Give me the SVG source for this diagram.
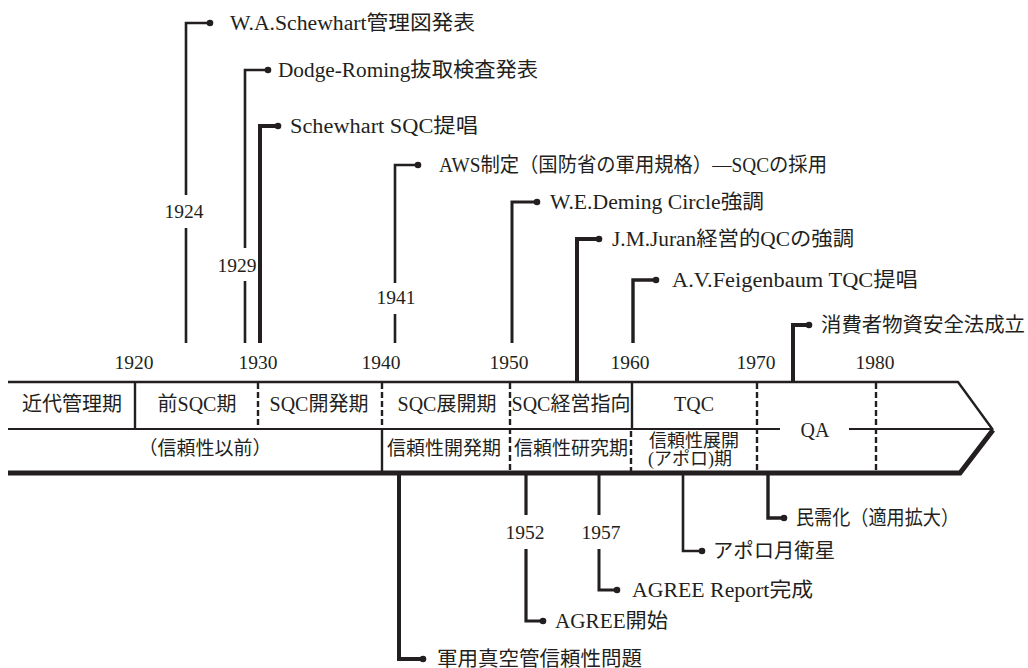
<svg xmlns="http://www.w3.org/2000/svg" width="1028" height="668" viewBox="0 0 1028 668">
<style>
text{font-family:"Liberation Serif","Noto Sans CJK JP",serif;fill:#231f20}
.lbl{font-size:20px}
.yr{font-size:19.5px;text-anchor:middle}
.band{font-size:20px;text-anchor:middle}
.band2{font-size:19px;text-anchor:middle}
.ln{fill:none;stroke:#231f20;stroke-width:2.6;stroke-linejoin:miter;stroke-linecap:butt}
.thk{stroke-width:4}
.dash{fill:none;stroke:#231f20;stroke-width:2.4;stroke-dasharray:6 3}
.dot{fill:#231f20}
</style>
<rect width="1028" height="668" fill="#fff"/>

<g id="timeline-band">
  <path d="M8,382 H958 L993,430" fill="none" stroke="#231f20" stroke-width="2.4"/>
  <path d="M8,473 H960 L993,430" fill="none" stroke="#231f20" stroke-width="5"/>
  <path d="M8,429 H780 M849,429 H993" fill="none" stroke="#231f20" stroke-width="2.2"/>
  <path d="M135,382 V429 M632,382 V429 M382,429 V473" fill="none" stroke="#231f20" stroke-width="2.4"/>
  <path class="dash" d="M258,383 V429 M382,383 V429 M510,383 V472 M631,431 V472 M757,383 V472 M876,383 V472"/>
  <text class="band" x="72" y="411">近代管理期</text>
  <text class="band" x="197" y="411">前SQC期</text>
  <text class="band" x="319" y="411">SQC開発期</text>
  <text class="band" x="447" y="411">SQC展開期</text>
  <text class="band" x="571" y="411">SQC経営指向</text>
  <text class="band" x="694" y="411">TQC</text>
  <text class="band" x="815" y="437">QA</text>
  <text class="band2" x="205" y="455">（信頼性以前）</text>
  <text class="band2" x="444" y="455">信頼性開発期</text>
  <text class="band2" x="571" y="455">信頼性研究期</text>
  <text class="band2" x="694" y="447" style="font-size:18px">信頼性展開</text>
  <text class="band2" x="690" y="465" style="font-size:18px">(アポロ)期</text>
</g>

<g id="decade-labels">
  <text class="yr" x="134" y="369">1920</text>
  <text class="yr" x="258" y="369">1930</text>
  <text class="yr" x="381" y="369">1940</text>
  <text class="yr" x="509" y="369">1950</text>
  <text class="yr" x="630" y="369">1960</text>
  <text class="yr" x="756" y="369">1970</text>
  <text class="yr" x="875" y="369">1980</text>
</g>

<g id="connectors">
  <path class="ln" d="M186,343 V228 M186,195 V23 H210"/>
  <path class="ln" d="M245,343 V281 M245,248 V70 H268"/>
  <path class="ln thk" d="M260,343 V126 H278"/>
  <path class="ln" d="M395,343 V314 M395,283 V165 H418"/>
  <path class="ln" style="stroke-width:3" d="M512,343 V202 H537"/>
  <path class="ln thk" d="M577,382 V239 H599"/>
  <path class="ln" style="stroke-width:3.4" d="M633,343 V280 H656"/>
  <path class="ln thk" d="M793,382 V325 H809"/>
  <path class="ln thk" d="M399,474 V659 H423"/>
  <path class="ln" style="stroke-width:3.2" d="M526,474 V515 M526,549 V621 H543"/>
  <path class="ln" style="stroke-width:3" d="M599,474 V515 M599,549 V590 H617"/>
  <path class="ln" d="M683,474 V551 H702"/>
  <path class="ln" style="stroke-width:3.4" d="M768,474 V518 H784"/>
  <rect x="216" y="249" width="42" height="31" fill="#fff"/>
</g>

<g id="year-labels">
  <text class="yr" x="184" y="218">1924</text>
  <text class="yr" x="237" y="272">1929</text>
  <text class="yr" x="396" y="304">1941</text>
  <text class="yr" x="525" y="539">1952</text>
  <text class="yr" x="601" y="539">1957</text>
</g>

<g id="ev-schewhart-chart"><circle class="dot" cx="210" cy="23" r="3.3"/><text class="lbl" x="230" y="30" textLength="245" lengthAdjust="spacingAndGlyphs">W.A.Schewhart管理図発表</text></g>
<g id="ev-dodge-roming"><circle class="dot" cx="268" cy="70" r="3.3"/><text class="lbl" x="278" y="77" textLength="260" lengthAdjust="spacingAndGlyphs">Dodge-Roming抜取検査発表</text></g>
<g id="ev-schewhart-sqc"><circle class="dot" cx="278" cy="126" r="3.3"/><text class="lbl" x="290" y="133" textLength="188" lengthAdjust="spacingAndGlyphs">Schewhart SQC提唱</text></g>
<g id="ev-aws"><circle class="dot" cx="418" cy="165" r="3.3"/><text class="lbl" x="439" y="172" textLength="388" lengthAdjust="spacingAndGlyphs">AWS制定（国防省の軍用規格）—SQCの採用</text></g>
<g id="ev-deming"><circle class="dot" cx="537" cy="202" r="3.3"/><text class="lbl" x="550" y="209" textLength="214" lengthAdjust="spacingAndGlyphs">W.E.Deming Circle強調</text></g>
<g id="ev-juran"><circle class="dot" cx="599" cy="239" r="3.3"/><text class="lbl" x="612" y="246" textLength="242" lengthAdjust="spacingAndGlyphs">J.M.Juran経営的QCの強調</text></g>
<g id="ev-feigenbaum"><circle class="dot" cx="656" cy="280" r="3.3"/><text class="lbl" x="672" y="287" textLength="246" lengthAdjust="spacingAndGlyphs">A.V.Feigenbaum TQC提唱</text></g>
<g id="ev-consumer-law"><circle class="dot" cx="809" cy="325" r="3.3"/><text class="lbl" x="821" y="332" textLength="204" lengthAdjust="spacingAndGlyphs">消費者物資安全法成立</text></g>
<g id="ev-vacuum-tube"><circle class="dot" cx="423" cy="659" r="3.3"/><text class="lbl" x="437" y="666" textLength="205" lengthAdjust="spacingAndGlyphs">軍用真空管信頼性問題</text></g>
<g id="ev-agree-start"><circle class="dot" cx="543" cy="621" r="3.3"/><text class="lbl" x="555" y="628" textLength="113" lengthAdjust="spacingAndGlyphs">AGREE開始</text></g>
<g id="ev-agree-report"><circle class="dot" cx="617" cy="590" r="3.3"/><text class="lbl" x="632" y="597" textLength="181" lengthAdjust="spacingAndGlyphs">AGREE Report完成</text></g>
<g id="ev-apollo"><circle class="dot" cx="702" cy="551" r="3.3"/><text class="lbl" x="713" y="558" textLength="122" lengthAdjust="spacingAndGlyphs">アポロ月衛星</text></g>
<g id="ev-civil"><circle class="dot" cx="784" cy="518" r="3.3"/><text class="lbl" x="796" y="525" textLength="163" lengthAdjust="spacingAndGlyphs">民需化（適用拡大）</text></g>
</svg>
